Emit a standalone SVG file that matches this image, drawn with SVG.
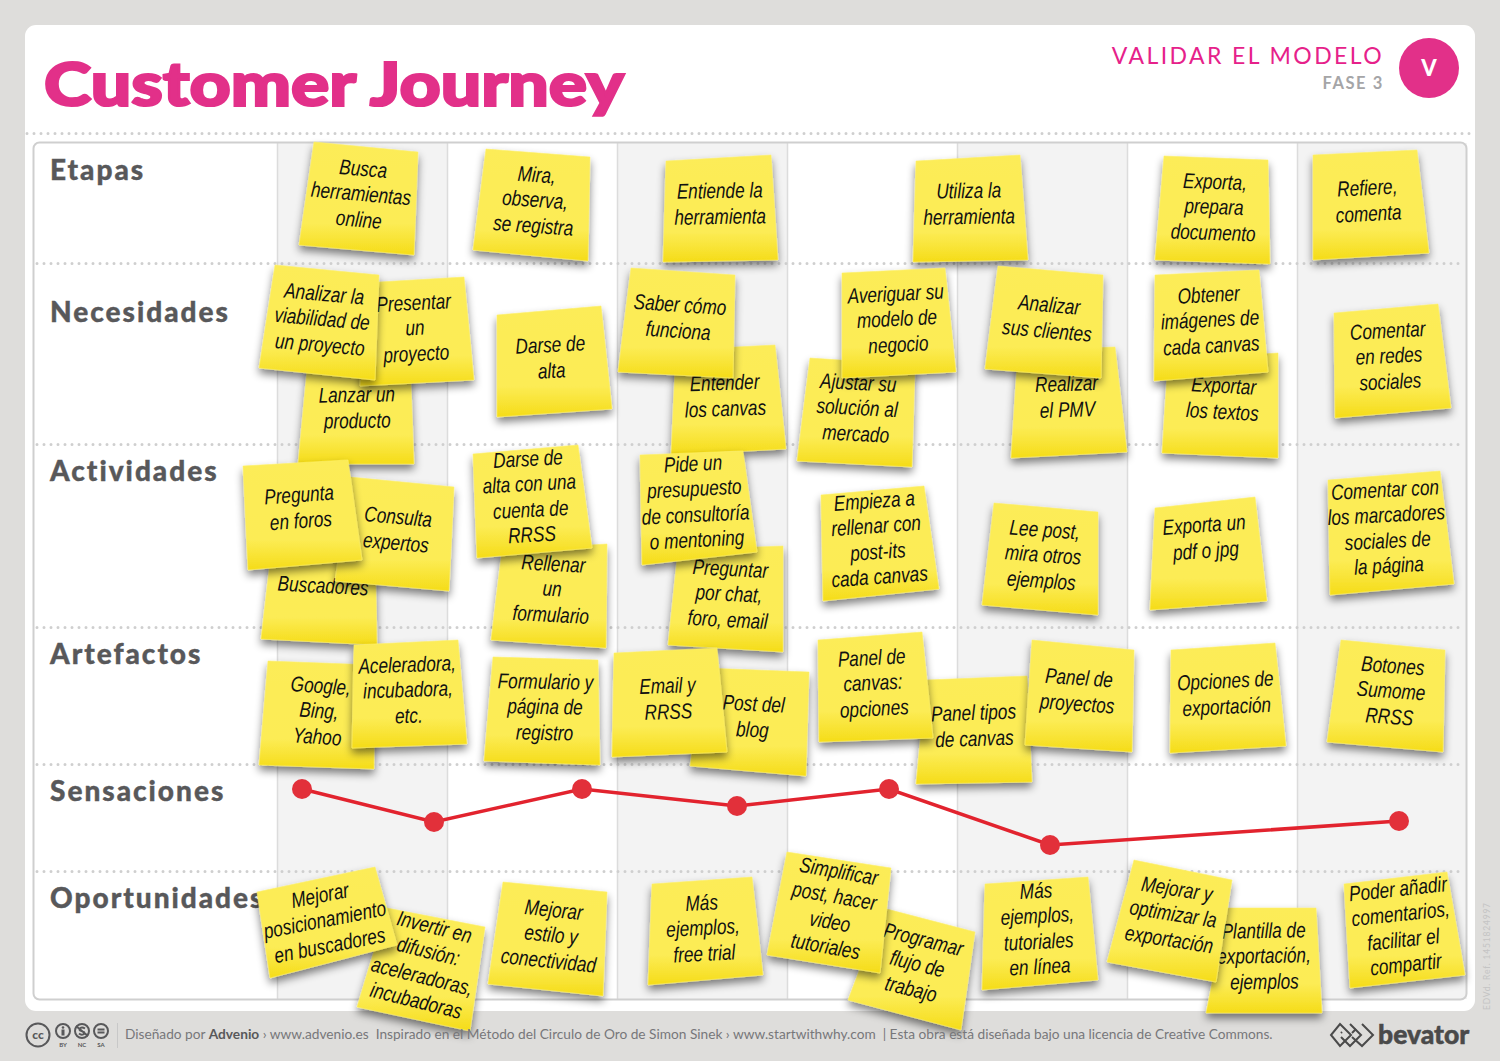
<svg xmlns="http://www.w3.org/2000/svg" width="1500" height="1061" viewBox="0 0 1500 1061">
<style>
.nt{fill:url(#yel);stroke:#fdf06a;stroke-width:.6;filter:url(#sh)}
.hw{font-family:"Liberation Sans",sans-serif;font-style:italic;font-size:21.5px;fill:#111;text-anchor:middle}
.rl{font-family:Lato,"Open Sans",sans-serif;font-weight:900;font-size:28px;letter-spacing:2px;fill:#58585a;stroke:#58585a;stroke-width:.4}
.dot{stroke:#cfcfcf;stroke-width:3;stroke-dasharray:0 7;stroke-linecap:round;fill:none}
.col{stroke:#dcdcdc;stroke-width:1.5}
.ft{font-family:Lato,"Open Sans",sans-serif;font-size:13.7px;fill:#77777a}
.ccs{font-family:Lato,sans-serif;font-size:6px;fill:#58585a;text-anchor:middle;font-weight:700}
.ci{fill:none;stroke:#58585a;stroke-width:2}
.lg{fill:none;stroke:#4a4a4a;stroke-width:2}
</style>
<defs>
<linearGradient id="yel" x1="0" y1="0" x2="0" y2="1"><stop offset="0" stop-color="#fcec58"/><stop offset=".72" stop-color="#fcec55"/><stop offset="1" stop-color="#f5dc18"/></linearGradient>
<filter id="sh" x="-20%" y="-10%" width="140%" height="130%"><feGaussianBlur in="SourceAlpha" stdDeviation="4"/><feOffset dy="5"/><feComponentTransfer><feFuncA type="linear" slope=".5"/></feComponentTransfer><feMerge><feMergeNode/><feMergeNode in="SourceGraphic"/></feMerge></filter>
</defs>
<rect width="1500" height="1061" fill="#dedddb"/>
<rect x="25" y="25" width="1450" height="986" rx="11" fill="#fff"/>
<g id="header">
<text x="44" y="106" font-family="Lato,sans-serif" font-weight="900" font-size="60" fill="#e23089" stroke="#e23089" stroke-width="2.2" textLength="580" lengthAdjust="spacingAndGlyphs">Customer Journey</text>
<text x="1384" y="64" text-anchor="end" font-family="Lato,sans-serif" font-size="23" letter-spacing="2.4" fill="#e6218a">VALIDAR EL MODELO</text>
<text x="1384" y="89" text-anchor="end" font-family="Lato,sans-serif" font-weight="700" font-size="16.5" letter-spacing="1.6" fill="#a5a5a7">FASE 3</text>
<circle cx="1429" cy="68" r="30" fill="#e23089"/>
<text x="1429" y="76" text-anchor="middle" font-family="Lato,sans-serif" font-weight="900" font-size="22" fill="#fff">V</text>
<path class="dot" d="M27 133.500H1473"/>
</g>
<g id="grid">
<rect x="33.500" y="142.500" width="1433" height="857" rx="6" fill="#fff"/>
<rect x="277" y="143" width="170" height="856" fill="#f3f3f3"/>
<rect x="617" y="143" width="170" height="856" fill="#f3f3f3"/>
<rect x="957" y="143" width="170" height="856" fill="#f3f3f3"/>
<rect x="1297" y="143" width="170" height="856" fill="#f3f3f3"/>
<path class="col" d="M277.500 143V999M447.500 143V999M617.500 143V999M787.500 143V999M957.500 143V999M1127.500 143V999M1297.500 143V999"/>
<rect x="33.500" y="142.500" width="1433" height="857" rx="6" fill="none" stroke="#cfcfcf" stroke-width="2"/>
<path class="dot" d="M37 263.500H1463M37 444.500H1463M37 627.500H1463M37 764.500H1463M37 871.500H1463"/>
</g>
<g id="row-labels">
<text class="rl" x="50" y="180">Etapas</text>
<text class="rl" x="50" y="322">Necesidades</text>
<text class="rl" x="50" y="481">Actividades</text>
<text class="rl" x="50" y="664">Artefactos</text>
<text class="rl" x="50" y="801">Sensaciones</text>
<text class="rl" x="50" y="908">Oportunidades</text>
</g>
<g id="connectors"><polyline points="302,789 434,822 582,789 737,806 889,789 1050,845 1399,821" fill="none" stroke="#e2232e" stroke-width="3.500"/></g>
<g id="sensaciones" fill="#e2303a">
<circle cx="302" cy="789" r="10"/><circle cx="434" cy="822" r="10"/><circle cx="582" cy="789" r="10"/><circle cx="737" cy="806" r="10"/><circle cx="889" cy="789" r="10"/><circle cx="1050" cy="845" r="10"/><circle cx="1399" cy="821" r="10"/>
</g>
<g id="n1"><polygon class="nt" points="314,142 418,152 414,255 299,245"/><text class="hw" transform="translate(361,195) rotate(5) scale(.8,1)"><tspan x="0" y="-19">Busca</tspan><tspan x="0" y="6">herramientas</tspan><tspan x="0" y="32">online</tspan></text></g>
<g id="n2"><polygon class="nt" points="486,149 590,157 588,261 473,250"/><text class="hw" transform="translate(535,201) rotate(4) scale(.8,1)"><tspan x="0" y="-19">Mira,</tspan><tspan x="0" y="6">observa,</tspan><tspan x="0" y="32">se registra</tspan></text></g>
<g id="n3"><polygon class="nt" points="666,161 771,155 778,260 663,262"/><text class="hw" transform="translate(720,205) rotate(-1) scale(.8,1)"><tspan x="0" y="-7">Entiende la</tspan><tspan x="0" y="19">herramienta</tspan></text></g>
<g id="n4"><polygon class="nt" points="916,161 1020,155 1028,260 913,262"/><text class="hw" transform="translate(969,205) rotate(-1) scale(.8,1)"><tspan x="0" y="-7">Utiliza la</tspan><tspan x="0" y="19">herramienta</tspan></text></g>
<g id="n5"><polygon class="nt" points="1164,156 1268,160 1270,264 1155,260"/><text class="hw" transform="translate(1214,208) rotate(2) scale(.8,1)"><tspan x="0" y="-19">Exporta,</tspan><tspan x="0" y="6">prepara</tspan><tspan x="0" y="32">documento</tspan></text></g>
<g id="n6"><polygon class="nt" points="1313,155 1417,150 1429,253 1313,260"/><text class="hw" transform="translate(1368,202) rotate(-3) scale(.8,1)"><tspan x="0" y="-7">Refiere,</tspan><tspan x="0" y="19">comenta</tspan></text></g>
<g id="n7"><polygon class="nt" points="308,360 410,360 414,464 298,464"/><text class="hw" transform="translate(357,409) rotate(-1) scale(.8,1)"><tspan x="0" y="-7">Lanzar un</tspan><tspan x="0" y="19">producto</tspan></text></g>
<g id="n8"><polygon class="nt" points="362,283 464,277 474,380 360,386"/><text class="hw" transform="translate(415,329) rotate(-3) scale(.8,1)"><tspan x="0" y="-19">Presentar</tspan><tspan x="0" y="6">un</tspan><tspan x="0" y="32">proyecto</tspan></text></g>
<g id="n9"><polygon class="nt" points="275,265 379,275 375,380 259,368"/><text class="hw" transform="translate(322,320) rotate(5) scale(.8,1)"><tspan x="0" y="-19">Analizar la</tspan><tspan x="0" y="6">viabilidad de</tspan><tspan x="0" y="32">un proyecto</tspan></text></g>
<g id="n10"><polygon class="nt" points="497,315 601,306 612,409 497,417"/><text class="hw" transform="translate(551,359) rotate(-3) scale(.8,1)"><tspan x="0" y="-7">Darse de</tspan><tspan x="0" y="19">alta</tspan></text></g>
<g id="n11"><polygon class="nt" points="676,350 775,345 786,449 671,455"/><text class="hw" transform="translate(725,397) rotate(-2) scale(.8,1)"><tspan x="0" y="-7">Entender</tspan><tspan x="0" y="19">los canvas</tspan></text></g>
<g id="n12"><polygon class="nt" points="631,268 735,275 733,378 618,372"/><text class="hw" transform="translate(679,319) rotate(4) scale(.8,1)"><tspan x="0" y="-7">Saber cómo</tspan><tspan x="0" y="19">funciona</tspan></text></g>
<g id="n13"><polygon class="nt" points="810,358 915,365 912,467 797,461"/><text class="hw" transform="translate(857,409) rotate(3) scale(.8,1)"><tspan x="0" y="-19">Ajustar su</tspan><tspan x="0" y="6">solución al</tspan><tspan x="0" y="32">mercado</tspan></text></g>
<g id="n14"><polygon class="nt" points="842,273 945,268 956,372 842,378"/><text class="hw" transform="translate(897,320) rotate(-3) scale(.8,1)"><tspan x="0" y="-19">Averiguar su</tspan><tspan x="0" y="6">modelo de</tspan><tspan x="0" y="32">negocio</tspan></text></g>
<g id="n15"><polygon class="nt" points="1018,350 1115,347 1127,452 1011,458"/><text class="hw" transform="translate(1067,398) rotate(-2) scale(.8,1)"><tspan x="0" y="-7">Realizar</tspan><tspan x="0" y="19">el PMV</tspan></text></g>
<g id="n16"><polygon class="nt" points="998,266 1103,275 1101,378 985,369"/><text class="hw" transform="translate(1048,319) rotate(5) scale(.8,1)"><tspan x="0" y="-7">Analizar</tspan><tspan x="0" y="19">sus clientes</tspan></text></g>
<g id="n17"><polygon class="nt" points="1168,360 1278,353 1278,458 1162,453"/><text class="hw" transform="translate(1223,400) rotate(3) scale(.8,1)"><tspan x="0" y="-7">Exportar</tspan><tspan x="0" y="19">los textos</tspan></text></g>
<g id="n18"><polygon class="nt" points="1155,275 1259,270 1268,372 1154,381"/><text class="hw" transform="translate(1210,321) rotate(-3) scale(.8,1)"><tspan x="0" y="-19">Obtener</tspan><tspan x="0" y="6">imágenes de</tspan><tspan x="0" y="32">cada canvas</tspan></text></g>
<g id="n19"><polygon class="nt" points="1334,313 1438,304 1451,408 1335,418"/><text class="hw" transform="translate(1389,357) rotate(-3) scale(.8,1)"><tspan x="0" y="-19">Comentar</tspan><tspan x="0" y="6">en redes</tspan><tspan x="0" y="32">sociales</tspan></text></g>
<g id="n20"><polygon class="nt" points="272,545 375,545 377,645 261,639"/><text class="hw" transform="translate(323,587) rotate(3) scale(.8,1)"><tspan x="0" y="6">Buscadores</tspan></text></g>
<g id="n21"><polygon class="nt" points="350,477 454,487 449,591 335,581"/><text class="hw" transform="translate(397,531) rotate(5) scale(.8,1)"><tspan x="0" y="-7">Consulta</tspan><tspan x="0" y="19">expertos</tspan></text></g>
<g id="n22"><polygon class="nt" points="243,466 348,460 362,560 248,570"/><text class="hw" transform="translate(300,509) rotate(-4) scale(.8,1)"><tspan x="0" y="-7">Pregunta</tspan><tspan x="0" y="19">en foros</tspan></text></g>
<g id="n23"><polygon class="nt" points="502,550 607,544 606,648 491,640"/><text class="hw" transform="translate(552,590) rotate(3) scale(.8,1)"><tspan x="0" y="-19">Rellenar</tspan><tspan x="0" y="6">un</tspan><tspan x="0" y="32">formulario</tspan></text></g>
<g id="n24"><polygon class="nt" points="473,454 578,445 592,548 477,558"/><text class="hw" transform="translate(530,498) rotate(-3) scale(.8,1)"><tspan x="0" y="-32">Darse de</tspan><tspan x="0" y="-7">alta con una</tspan><tspan x="0" y="19">cuenta de</tspan><tspan x="0" y="44">RRSS</tspan></text></g>
<g id="n25"><polygon class="nt" points="678,550 783,546 783,652 668,645"/><text class="hw" transform="translate(729,595) rotate(3) scale(.8,1)"><tspan x="0" y="-19">Preguntar</tspan><tspan x="0" y="6">por chat,</tspan><tspan x="0" y="32">foro, email</tspan></text></g>
<g id="n26"><polygon class="nt" points="640,455 743,451 757,552 642,565"/><text class="hw" transform="translate(695,503) rotate(-3) scale(.8,1)"><tspan x="0" y="-32">Pide un</tspan><tspan x="0" y="-7">presupuesto</tspan><tspan x="0" y="19">de consultoría</tspan><tspan x="0" y="44">o mentoning</tspan></text></g>
<g id="n27"><polygon class="nt" points="821,495 924,486 939,589 823,601"/><text class="hw" transform="translate(877,540) rotate(-4) scale(.8,1)"><tspan x="0" y="-32">Empieza a</tspan><tspan x="0" y="-7">rellenar con</tspan><tspan x="0" y="19">post-its</tspan><tspan x="0" y="44">cada canvas</tspan></text></g>
<g id="n28"><polygon class="nt" points="994,503 1098,512 1098,615 982,605"/><text class="hw" transform="translate(1043,556) rotate(4) scale(.8,1)"><tspan x="0" y="-19">Lee post,</tspan><tspan x="0" y="6">mira otros</tspan><tspan x="0" y="32">ejemplos</tspan></text></g>
<g id="n29"><polygon class="nt" points="1155,508 1255,497 1267,601 1150,610"/><text class="hw" transform="translate(1205,539) rotate(-4) scale(.8,1)"><tspan x="0" y="-7">Exporta un</tspan><tspan x="0" y="19">pdf o jpg</tspan></text></g>
<g id="n30"><polygon class="nt" points="1328,480 1440,471 1454,584 1330,595"/><text class="hw" transform="translate(1387,529) rotate(-3) scale(.8,1)"><tspan x="0" y="-32">Comentar con</tspan><tspan x="0" y="-7">los marcadores</tspan><tspan x="0" y="19">sociales de</tspan><tspan x="0" y="44">la página</tspan></text></g>
<g id="n31"><polygon class="nt" points="268,661 375,665 374,769 259,765"/><text class="hw" transform="translate(319,712) rotate(4) scale(.8,1)"><tspan x="0" y="-19">Google,</tspan><tspan x="0" y="6">Bing,</tspan><tspan x="0" y="32">Yahoo</tspan></text></g>
<g id="n32"><polygon class="nt" points="354,645 458,640 467,744 352,748"/><text class="hw" transform="translate(408,691) rotate(-2) scale(.8,1)"><tspan x="0" y="-19">Aceleradora,</tspan><tspan x="0" y="6">incubadora,</tspan><tspan x="0" y="32">etc.</tspan></text></g>
<g id="n33"><polygon class="nt" points="493,657 598,660 600,765 484,761"/><text class="hw" transform="translate(545,708) rotate(1) scale(.8,1)"><tspan x="0" y="-19">Formulario y</tspan><tspan x="0" y="6">página de</tspan><tspan x="0" y="32">registro</tspan></text></g>
<g id="n34"><polygon class="nt" points="703,668 809,672 806,776 690,766"/><text class="hw" transform="translate(753,718) rotate(3) scale(.8,1)"><tspan x="0" y="-7">Post del</tspan><tspan x="0" y="19">blog</tspan></text></g>
<g id="n35"><polygon class="nt" points="614,653 717,648 727,752 612,757"/><text class="hw" transform="translate(668,700) rotate(-2) scale(.8,1)"><tspan x="0" y="-7">Email y</tspan><tspan x="0" y="19">RRSS</tspan></text></g>
<g id="n36"><polygon class="nt" points="926,680 1027,676 1032,782 916,784"/><text class="hw" transform="translate(974,727) rotate(-2) scale(.8,1)"><tspan x="0" y="-7">Panel tipos</tspan><tspan x="0" y="19">de canvas</tspan></text></g>
<g id="n37"><polygon class="nt" points="818,640 922,632 933,738 819,742"/><text class="hw" transform="translate(873,684) rotate(-3) scale(.8,1)"><tspan x="0" y="-19">Panel de</tspan><tspan x="0" y="6">canvas:</tspan><tspan x="0" y="32">opciones</tspan></text></g>
<g id="n38"><polygon class="nt" points="1032,640 1134,650 1132,752 1025,745"/><text class="hw" transform="translate(1078,692) rotate(4) scale(.8,1)"><tspan x="0" y="-7">Panel de</tspan><tspan x="0" y="19">proyectos</tspan></text></g>
<g id="n39"><polygon class="nt" points="1171,650 1275,643 1286,746 1170,753"/><text class="hw" transform="translate(1226,695) rotate(-3) scale(.8,1)"><tspan x="0" y="-7">Opciones de</tspan><tspan x="0" y="19">exportación</tspan></text></g>
<g id="n40"><polygon class="nt" points="1341,640 1445,650 1443,752 1327,742"/><text class="hw" transform="translate(1391,692) rotate(4) scale(.8,1)"><tspan x="0" y="-19">Botones</tspan><tspan x="0" y="6">Sumome</tspan><tspan x="0" y="32">RRSS</tspan></text></g>
<g id="n41"><polygon class="nt" points="387,908 485,927 470,1031 357,1007"/><text class="hw" transform="translate(425,965) rotate(14) scale(.8,1)"><tspan x="0" y="-32">Invertir en</tspan><tspan x="0" y="-7">difusión:</tspan><tspan x="0" y="19">aceleradoras,</tspan><tspan x="0" y="44">incubadoras</tspan></text></g>
<g id="n42"><polygon class="nt" points="257,892 375,867 397,945 270,978"/><text class="hw" transform="translate(325,921) rotate(-11) scale(.8,1)"><tspan x="0" y="-19">Mejorar</tspan><tspan x="0" y="6">posicionamiento</tspan><tspan x="0" y="32">en buscadores</tspan></text></g>
<g id="n43"><polygon class="nt" points="503,882 607,892 603,996 488,984"/><text class="hw" transform="translate(551,936) rotate(6) scale(.8,1)"><tspan x="0" y="-19">Mejorar</tspan><tspan x="0" y="6">estilo y</tspan><tspan x="0" y="32">conectividad</tspan></text></g>
<g id="n44"><polygon class="nt" points="652,884 752,877 763,975 648,985"/><text class="hw" transform="translate(703,929) rotate(-3) scale(.8,1)"><tspan x="0" y="-19">Más</tspan><tspan x="0" y="6">ejemplos,</tspan><tspan x="0" y="32">free trial</tspan></text></g>
<g id="n45"><polygon class="nt" points="883,908 975,932 961,1030 848,1000"/><text class="hw" transform="translate(917,965) rotate(14) scale(.8,1)"><tspan x="0" y="-19">Programar</tspan><tspan x="0" y="6">flujo de</tspan><tspan x="0" y="32">trabajo</tspan></text></g>
<g id="n46"><polygon class="nt" points="787,852 891,868 880,973 767,955"/><text class="hw" transform="translate(832,910) rotate(10) scale(.8,1)"><tspan x="0" y="-32">Simplificar</tspan><tspan x="0" y="-7">post, hacer</tspan><tspan x="0" y="19">video</tspan><tspan x="0" y="44">tutoriales</tspan></text></g>
<g id="n47"><polygon class="nt" points="985,884 1088,877 1098,980 982,990"/><text class="hw" transform="translate(1038,930) rotate(-3) scale(.8,1)"><tspan x="0" y="-32">Más</tspan><tspan x="0" y="-7">ejemplos,</tspan><tspan x="0" y="19">tutoriales</tspan><tspan x="0" y="44">en línea</tspan></text></g>
<g id="n48"><polygon class="nt" points="1227,908 1316,908 1322,1013 1206,1013"/><text class="hw" transform="translate(1264,957) rotate(-1) scale(.8,1)"><tspan x="0" y="-19">Plantilla de</tspan><tspan x="0" y="6">exportación,</tspan><tspan x="0" y="32">ejemplos</tspan></text></g>
<g id="n49"><polygon class="nt" points="1134,860 1232,880 1216,982 1107,962"/><text class="hw" transform="translate(1173,915) rotate(9) scale(.8,1)"><tspan x="0" y="-19">Mejorar y</tspan><tspan x="0" y="6">optimizar la</tspan><tspan x="0" y="32">exportación</tspan></text></g>
<g id="n50"><polygon class="nt" points="1344,884 1447,872 1465,975 1350,988"/><text class="hw" transform="translate(1402,928) rotate(-6) scale(.8,1)"><tspan x="0" y="-32">Poder añadir</tspan><tspan x="0" y="-7">comentarios,</tspan><tspan x="0" y="19">facilitar el</tspan><tspan x="0" y="44">compartir</tspan></text></g>
<g id="footer">
<circle class="ci" cx="38" cy="1035" r="11.500" stroke-width="2.500"/>
<text x="38" y="1039" text-anchor="middle" font-family="Lato,sans-serif" font-weight="900" font-size="12" fill="#58585a">cc</text>
<circle class="ci" cx="63" cy="1031" r="7" stroke-width="1.500"/><circle cx="63" cy="1027.500" r="1.300" fill="#58585a"/><rect x="61.500" y="1029.500" width="3" height="6" fill="#58585a"/>
<circle class="ci" cx="82" cy="1031" r="7" stroke-width="1.500"/><path class="ci" stroke-width="1.500" d="M85 1028.500C81 1026 78.500 1029 80 1030.500L84 1032C85.500 1034 82 1036 79 1033.500M76 1026L88 1036"/>
<circle class="ci" cx="101" cy="1031" r="7" stroke-width="1.500"/><path class="ci" stroke-width="1.500" d="M97.500 1029.500H104.500M97.500 1032.500H104.500"/>
<text class="ccs" x="63" y="1047">BY</text><text class="ccs" x="82" y="1047">NC</text><text class="ccs" x="101" y="1047">SA</text>
<path d="M117.500 1023V1048" stroke="#c8c8c8" stroke-width="1"/>
<text class="ft" x="125" y="1039" xml:space="preserve">Diseñado por <tspan font-weight="700" fill="#58585a">Advenio</tspan> › www.advenio.es  Inspirado en el Método del Circulo de Oro de Simon Sinek › www.startwithwhy.com  | Esta obra está diseñada bajo una licencia de Creative Commons.</text>
<g id="bevator-logo"><path class="lg" d="M1340 1024L1351 1035L1340 1046L1331 1035Z"/><path class="lg" d="M1350 1024L1361 1035L1350 1046L1341 1037M1341 1033L1342 1032"/><path class="lg" d="M1362 1024L1373 1035L1362 1046L1352 1037M1352 1033L1356 1029"/></g>
<text x="1378" y="1044" font-family="Lato,sans-serif" font-weight="900" font-size="26.500" fill="#4a4a4a" stroke="#4a4a4a" stroke-width=".5">bevator</text>
<text transform="translate(1490,1010) rotate(-90)" font-family="Lato,sans-serif" font-size="8.500" letter-spacing=".8" fill="#c4c4c4">EDVd. Ref. 1451824997</text>
</g>
</svg>
